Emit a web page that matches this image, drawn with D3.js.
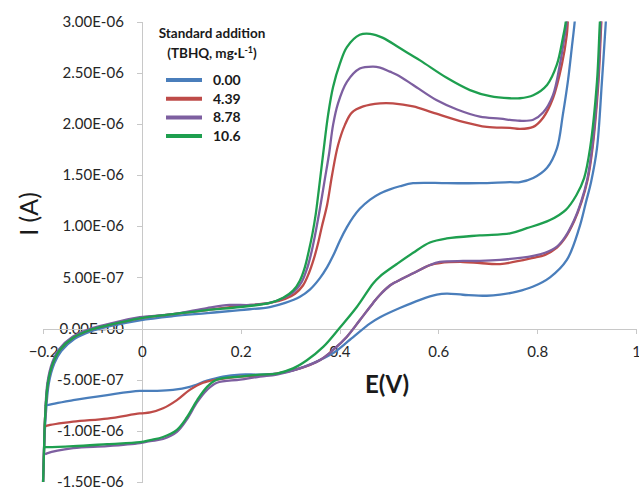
<!DOCTYPE html>
<html>
<head>
<meta charset="utf-8">
<script src="https://cdn.jsdelivr.net/npm/d3@7"></script>
<style>
	body { margin: 0; background: #fff; }
	svg { font-family: Lato, "Liberation Sans", sans-serif; }
</style>
</head>
<body>
<div id="chart"></div>
<script>
// E (V) , I (x1E-06 A)
var cv000 = [[-0.200,-1.52],[-0.198,-1.20],[-0.195,-0.89],[-0.188,-0.53],[-0.177,-0.34],[-0.163,-0.22],[-0.136,-0.10],[-0.102,-0.025],[-0.067,0.02],[-0.004,0.08],
	[0.063,0.12],[0.132,0.15],[0.199,0.18],[0.259,0.21],[0.290,0.25],[0.320,0.31],[0.340,0.38],[0.360,0.49],[0.375,0.60],[0.387,0.71],[0.401,0.86],[0.415,0.99],
	[0.428,1.09],[0.441,1.17],[0.462,1.26],[0.482,1.32],[0.502,1.36],[0.522,1.39],[0.549,1.42],[0.617,1.42],[0.684,1.42],[0.745,1.43],[0.765,1.43],[0.792,1.47],
	[0.820,1.57],[0.840,1.76],[0.852,2.09],[0.862,2.41],[0.870,2.74],[0.876,3.00],[0.879,3.20],
	[0.942,3.20],[0.939,3.00],[0.931,2.41],[0.921,1.76],[0.909,1.43],[0.899,1.24],[0.885,0.98],[0.860,0.67],[0.826,0.50],[0.792,0.41],[0.759,0.36],[0.725,0.33],
	[0.698,0.32],[0.650,0.33],[0.617,0.34],[0.597,0.33],[0.563,0.28],[0.522,0.20],[0.482,0.11],[0.462,0.05],[0.421,-0.11],[0.387,-0.24],[0.346,-0.34],[0.306,-0.41],
	[0.273,-0.44],[0.239,-0.45],[0.199,-0.45],[0.164,-0.47],[0.132,-0.51],[0.097,-0.57],[0.063,-0.60],[0.031,-0.61],[-0.004,-0.61],[-0.070,-0.65],[-0.139,-0.70],[-0.192,-0.75],[-0.196,-0.76]];

var cv439 = [[-0.200,-1.52],[-0.198,-1.20],[-0.196,-0.89],[-0.190,-0.53],[-0.180,-0.34],[-0.166,-0.21],[-0.139,-0.09],[-0.105,-0.015],[-0.070,0.03],[-0.004,0.10],
	[0.063,0.14],[0.132,0.18],[0.199,0.22],[0.259,0.25],[0.290,0.29],[0.310,0.34],[0.326,0.42],[0.338,0.54],[0.348,0.68],[0.356,0.82],[0.364,0.99],[0.375,1.21],
	[0.385,1.50],[0.397,1.79],[0.411,1.99],[0.425,2.11],[0.448,2.17],[0.482,2.20],[0.508,2.20],[0.549,2.17],[0.589,2.11],[0.650,2.02],[0.698,1.97],[0.745,1.96],
	[0.765,1.95],[0.792,1.97],[0.812,2.06],[0.832,2.25],[0.850,2.58],[0.860,2.87],[0.862,3.00],[0.864,3.20],
	[0.933,3.20],[0.930,3.00],[0.924,2.41],[0.912,1.76],[0.902,1.45],[0.890,1.24],[0.875,1.05],[0.856,0.88],[0.840,0.79],[0.816,0.72],[0.792,0.69],
	[0.725,0.63],[0.684,0.64],[0.650,0.65],[0.603,0.64],[0.583,0.62],[0.549,0.54],[0.516,0.46],[0.502,0.42],[0.482,0.33],[0.468,0.25],[0.441,0.08],[0.415,-0.08],
	[0.387,-0.21],[0.360,-0.31],[0.320,-0.39],[0.273,-0.44],[0.239,-0.46],[0.199,-0.47],[0.152,-0.50],[0.124,-0.53],[0.097,-0.60],[0.071,-0.70],[0.043,-0.78],
	[0.017,-0.82],[-0.004,-0.83],[-0.070,-0.88],[-0.139,-0.91],[-0.192,-0.95],[-0.196,-0.96]];

var cv878 = [[-0.200,-1.52],[-0.198,-1.20],[-0.196,-0.89],[-0.191,-0.53],[-0.181,-0.33],[-0.167,-0.20],[-0.140,-0.08],[-0.106,-0.005],[-0.071,0.04],[-0.004,0.11],
	[0.063,0.14],[0.132,0.20],[0.178,0.23],[0.219,0.23],[0.259,0.25],[0.288,0.30],[0.308,0.36],[0.323,0.45],[0.334,0.58],[0.342,0.72],[0.350,0.90],[0.360,1.16],
	[0.370,1.45],[0.379,1.71],[0.387,1.99],[0.397,2.20],[0.415,2.41],[0.441,2.54],[0.468,2.56],[0.482,2.55],[0.502,2.51],[0.516,2.48],[0.549,2.38],[0.597,2.23],
	[0.638,2.14],[0.684,2.07],[0.725,2.05],[0.765,2.03],[0.792,2.04],[0.812,2.11],[0.832,2.28],[0.846,2.58],[0.856,2.87],[0.860,3.00],[0.862,3.20],
	[0.932,3.20],[0.929,3.00],[0.923,2.41],[0.911,1.76],[0.901,1.45],[0.889,1.24],[0.874,1.05],[0.856,0.89],[0.840,0.80],[0.816,0.74],[0.792,0.71],
	[0.725,0.67],[0.684,0.66],[0.650,0.66],[0.603,0.65],[0.583,0.62],[0.549,0.54],[0.516,0.46],[0.502,0.42],[0.482,0.33],[0.468,0.25],[0.441,0.08],[0.415,-0.08],
	[0.387,-0.21],[0.360,-0.31],[0.320,-0.39],[0.273,-0.45],[0.239,-0.47],[0.199,-0.50],[0.152,-0.53],[0.132,-0.60],[0.112,-0.72],[0.091,-0.89],[0.071,-1.01],
	[0.043,-1.08],[0.017,-1.10],[-0.004,-1.12],[-0.070,-1.15],[-0.139,-1.17],[-0.192,-1.22],[-0.196,-1.23]];

var cv106 = [[-0.200,-1.55],[-0.198,-1.20],[-0.196,-0.89],[-0.190,-0.53],[-0.180,-0.34],[-0.166,-0.21],[-0.139,-0.09],[-0.105,-0.015],[-0.070,0.03],[-0.004,0.10],
	[0.063,0.14],[0.132,0.18],[0.199,0.21],[0.259,0.25],[0.286,0.30],[0.306,0.37],[0.320,0.47],[0.330,0.60],[0.338,0.76],[0.345,0.92],[0.352,1.12],[0.358,1.35],
	[0.367,1.71],[0.377,2.09],[0.387,2.36],[0.401,2.59],[0.415,2.75],[0.441,2.87],[0.462,2.88],[0.488,2.84],[0.522,2.74],[0.563,2.62],[0.617,2.45],[0.664,2.33],
	[0.705,2.27],[0.745,2.25],[0.765,2.25],[0.792,2.28],[0.820,2.38],[0.840,2.58],[0.852,2.84],[0.858,3.00],[0.860,3.20],
	[0.930,3.20],[0.927,3.00],[0.921,2.41],[0.907,1.76],[0.895,1.47],[0.879,1.30],[0.858,1.16],[0.826,1.06],[0.779,0.98],[0.745,0.93],[0.684,0.91],
	[0.617,0.88],[0.583,0.84],[0.549,0.74],[0.516,0.63],[0.482,0.51],[0.468,0.44],[0.435,0.21],[0.401,0.01],[0.367,-0.18],[0.334,-0.31],[0.306,-0.39],[0.273,-0.44],
	[0.239,-0.45],[0.199,-0.47],[0.152,-0.50],[0.132,-0.57],[0.112,-0.70],[0.091,-0.87],[0.071,-0.99],[0.043,-1.06],[0.017,-1.09],[-0.004,-1.11],[-0.070,-1.13],
	[-0.139,-1.15],[-0.192,-1.16],[-0.196,-1.16]];

var seriesNames = ["0.00", "4.39", "8.78", "10.6"];
var seriesColors = ["#4a7ebb", "#be4b48", "#7d5fa0", "#1e9f4f"];
var xTicks = [-0.2, 0, 0.2, 0.4, 0.6, 0.8, 1];
var yTicks = [-1.5e-6, -1e-6, -5e-7, 0, 5e-7, 1e-6, 1.5e-6, 2e-6, 2.5e-6, 3e-6];

var allSeries = [cv000, cv439, cv878, cv106];

var w = 639, h = 488;

var svg = d3.select("#chart").append("svg")
	.attr("width", w)
	.attr("height", h)

var x = d3.scaleLinear()
			.domain([-0.2, 1])
			.range([43, 636])

var y = d3.scaleLinear()
			.domain([-1.5e-6, 3e-6])
			.range([482, 21.5])

function sci(v) {
	if (Math.abs(v) < 1e-15) { return "0.00E+00"; }
	var e = Math.floor(Math.log10(Math.abs(v)) + 1e-9);
	var m = v / Math.pow(10, e);
	var ae = Math.abs(e);
	return m.toFixed(2) + "E" + (e < 0 ? "-" : "+") + (ae < 10 ? "0" : "") + ae;
}

var yAxis = d3.axisLeft(y).tickValues(yTicks).tickFormat(sci).tickSize(5).tickSizeOuter(0).tickPadding(13);
var xAxis = d3.axisBottom(x).tickValues(xTicks).tickFormat(function(d) { return d == 0 ? "0" : d3.format("")(+d.toFixed(1)) }).tickSize(5).tickSizeOuter(0).tickPadding(13);

var gy = svg.append("g").attr("class", "axis")
	.attr("transform", "translate(" + x(0) + ",0)")
	.call(yAxis)

var gx = svg.append("g").attr("class", "axis")
	.attr("transform", "translate(0," + y(0) + ")")
	.call(xAxis)

svg.selectAll(".axis path, .axis line")
	.style("stroke", "#c8c8c8")
	.style("stroke-width", 1)
	.style("shape-rendering", "crispEdges")

svg.selectAll(".axis text")
	.style("font-family", "Lato, sans-serif")
	.style("font-size", "15px")
	.style("fill", "#262626")

svg.append("text")
	.text("E(V)")
	.attr("x", 387)
	.attr("y", 393)
	.style("font-size", "24px")
	.style("font-weight", 700)
	.style("fill", "#1a1a1a")
	.style("text-anchor", "middle")

svg.append("text")
	.text("I (A)")
	.attr("transform", "translate(38,214) rotate(-90)")
	.style("font-size", "25px")
	.style("fill", "#1a1a1a")
	.style("text-anchor", "middle")

svg.append("clipPath")
	.attr("id", "plot")
	.append("rect")
	.attr("x", 0)
	.attr("y", y(3e-6))
	.attr("width", w)
	.attr("height", y(-1.5e-6) - y(3e-6))

var line = d3.line()
	.x(function(d) { return x(d[0]) })
	.y(function(d) { return y(d[1] * 1e-6) })
	.curve(d3.curveCatmullRom.alpha(0.5))

svg.append("g")
	.attr("clip-path", "url(#plot)")
	.selectAll(".cv")
	.data(allSeries)
	.enter()
	.append("path")
	.attr("class", "cv")
	.attr("d", line)
	.style("fill", "none")
	.style("stroke", function(d, i) { return seriesColors[i] })
	.style("stroke-width", 2.3)
	.style("stroke-linejoin", "round")

// legend
var lg = svg.append("g").attr("transform", "translate(166,0)")

lg.append("text")
	.text("Standard addition")
	.attr("x", 46)
	.attr("y", 38)
	.style("font-size", "13.5px")
	.style("font-weight", 700)
	.style("text-anchor", "middle")
	.style("fill", "#1a1a1a")

var t2 = lg.append("text")
	.attr("x", 46)
	.attr("y", 58)
	.style("font-size", "13.5px")
	.style("font-weight", 700)
	.style("text-anchor", "middle")
	.style("fill", "#1a1a1a")
t2.append("tspan").text("(TBHQ, mg\u00b7L")
t2.append("tspan").text("-1").attr("dy", -5).style("font-size", "9px")
t2.append("tspan").text(")").attr("dy", 5)

lg.selectAll(".key")
	.data(seriesNames)
	.enter()
	.append("line")
	.attr("class", "key")
	.attr("x1", 0)
	.attr("x2", 36)
	.attr("y1", function(d, i) { return 80 + i * 18.7 })
	.attr("y2", function(d, i) { return 80 + i * 18.7 })
	.style("stroke", function(d, i) { return seriesColors[i] })
	.style("stroke-width", 4)

lg.selectAll(".keytext")
	.data(seriesNames)
	.enter()
	.append("text")
	.attr("class", "keytext")
	.text(function(d) { return d })
	.attr("x", 47)
	.attr("y", function(d, i) { return 85 + i * 18.7 })
	.style("font-size", "14px")
	.style("font-weight", 700)
	.style("fill", "#1a1a1a")
</script>
</body>
</html>
